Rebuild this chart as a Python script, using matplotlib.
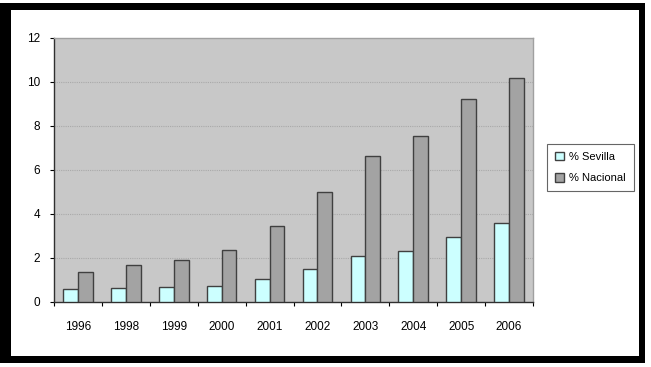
import matplotlib
matplotlib.use("Agg")
import matplotlib.pyplot as plt
import numpy as np
from matplotlib.patches import Rectangle

# === DATA ===
years = ["1996", "1998", "1999", "2000", "2001", "2002", "2003", "2004", "2005", "2006"]
sevilla = [0.57, 0.62, 0.68, 0.73, 1.05, 1.50, 2.10, 2.33, 2.94, 3.59]
nacional = [1.37, 1.66, 1.93, 2.38, 3.46, 5.00, 6.65, 7.53, 9.23, 10.18]
y_ticks = [0, 2, 4, 6, 8, 10, 12]

# === STYLE ===
plt.rcParams["font.family"] = ["Liberation Sans", "DejaVu Sans"]
PLOT_BG = "#c8c8c8"
SEV_COLOR = "#ccffff"
NAC_COLOR = "#a3a3a3"
EDGE = "#404040"

fig = plt.figure(figsize=(6.51, 3.67), dpi=100)
W, H = 651, 367

# black frame round the chart (behind the axes)
fig.patches.append(Rectangle((0, 4 / H), 645 / W, 360 / H, transform=fig.transFigure,
                             facecolor="black", edgecolor="none", zorder=-2))
fig.patches.append(Rectangle((11 / W, 11 / H), 628 / W, 346 / H, transform=fig.transFigure,
                             facecolor="white", edgecolor="none", zorder=-1))

ax = fig.add_axes([54 / W, 65 / H, 479 / W, 264 / H])
ax.set_facecolor(PLOT_BG)

x = np.arange(len(years))
bw = 0.31
ax.bar(x - bw / 2, sevilla, bw, color=SEV_COLOR, edgecolor=EDGE, linewidth=1.0,
       label="% Sevilla", zorder=3)
ax.bar(x + bw / 2, nacional, bw, color=NAC_COLOR, edgecolor=EDGE, linewidth=1.0,
       label="% Nacional", zorder=3)

ax.set_xlim(-0.5, len(years) - 0.5)
ax.set_ylim(0, 12)
ax.set_yticks(y_ticks)
ax.tick_params(axis="y", length=3, width=0.8, pad=7, labelsize=8.5, direction="out")

# ticks between categories, labels under centers
ax.set_xticks(np.arange(-0.5, len(years), 1.0))
ax.set_xticklabels([])
ax.set_xticks(x, minor=True)
ax.set_xticklabels(years, minor=True)
ax.tick_params(axis="x", which="major", length=3, width=0.8, direction="out")
ax.tick_params(axis="x", which="minor", length=0, pad=14, labelsize=8.5)

for v in y_ticks[1:-1]:
    ax.axhline(v, color="#a9a9a9", linestyle=(0, (1, 1)), linewidth=0.8, zorder=1)

for side in ("left", "bottom"):
    ax.spines[side].set_color("#303030")
    ax.spines[side].set_linewidth(1.0)
for side in ("top", "right"):
    ax.spines[side].set_color("#a0a0a0")
    ax.spines[side].set_linewidth(1.0)

leg = ax.legend(loc="upper left", bbox_to_anchor=(547 / W, (367 - 144) / H),
                bbox_transform=fig.transFigure, fontsize=8, frameon=True,
                fancybox=False, edgecolor="#404040", handlelength=0.8,
                handleheight=0.8, handletextpad=0.5, borderpad=0.7,
                labelspacing=1.0, borderaxespad=0)
leg.get_frame().set_linewidth(0.8)

fig.savefig("out.png", dpi=100)
